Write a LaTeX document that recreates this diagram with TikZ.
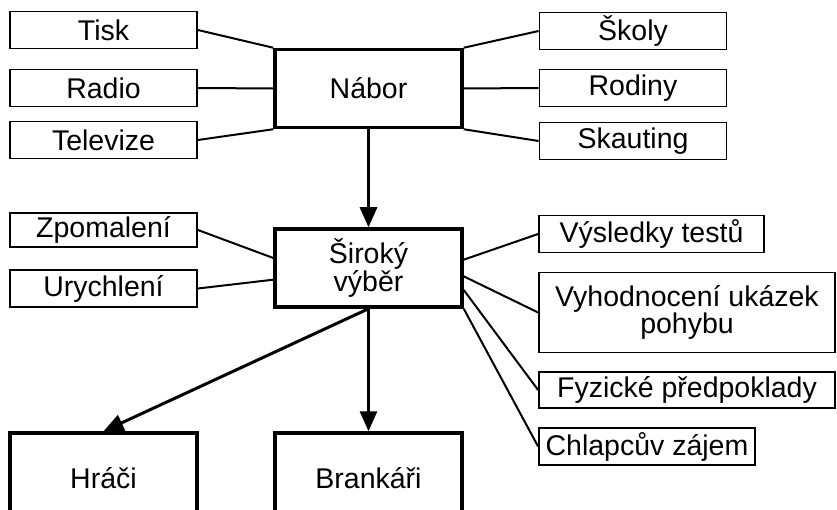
\documentclass[tikz,border=0pt]{standalone}
\usepackage{fontspec}
\setmainfont{Liberation Sans}
\usetikzlibrary{arrows.meta,positioning}

\begin{document}
\begin{tikzpicture}[
            x=1pt, y=-1pt,
            every node/.style={font=\fontsize{28.5}{26}\selectfont},
            side/.style={draw, line width=1.8pt, minimum width=187pt, minimum height=37pt, inner sep=0pt, align=center},
            hub/.style={draw, line width=3.5pt, minimum width=187pt, minimum height=78pt, inner sep=0pt, align=center},
            link/.style={line width=2pt},
            flow/.style={line width=3pt, -{Triangle[length=20pt,width=17pt]}},
        ]
            \path[use as bounding box, clip] (0,0) rectangle (837,510);

            % top level
            \node[hub] (nabor) at (368.5,88.5) {Nábor};
            \node[side] (tisk) at (103.5,30) {Tisk};
            \node[side] (radio) at (103.5,88) {Radio};
            \node[side] (televize) at (103.5,140) {Televize};
            \node[side] (skoly) at (633,31) {Školy};
            \node[side] (rodiny) at (633,88) {Rodiny};
            \node[side] (skauting) at (633,141) {Skauting};

            % middle level
            \node[hub] (siroky) at (368.5,268) {Široký\\výběr};
            \node[side, minimum height=34pt] (zpomaleni) at (103.5,230) {Zpomalení};
            \node[side] (urychleni) at (103.5,288.5) {Urychlení};
            \node[side, minimum width=225pt] (vysledky) at (651.5,234) {Výsledky testů};
            \node[side, minimum width=296pt, minimum height=80pt] (ukazky) at (687,312.5) {Vyhodnocení ukázek\\pohybu};
            \node[side, minimum width=296pt, minimum height=36pt] (fyzicke) at (687,390) {Fyzické předpoklady};
            \node[side, minimum width=216pt] (zajem) at (647,446.5) {Chlapcův zájem};

            % bottom level
            \node[hub, minimum height=90pt] (hraci) at (103.5,478) {Hráči};
            \node[hub, minimum height=90pt] (brankari) at (368.5,478) {Brankáři};

            \draw[link] (tisk.east) -- (nabor.north west);
            \draw[link] (radio.east) -- (nabor.west);
            \draw[link] (televize.east) -- (nabor.south west);
            \draw[link] (skoly.west) -- (nabor.north east);
            \draw[link] (rodiny.west) -- (nabor.east);
            \draw[link] (skauting.west) -- (nabor.south east);

            \draw[link] (zpomaleni.east) -- (siroky.174);
            \draw[link] (urychleni.east) -- (siroky.187);
            \draw[link] (vysledky.west) -- (siroky.5);
            \draw[link] (ukazky.west) -- (siroky.-5);
            \draw[link] (fyzicke.west) -- (siroky.-13);
            \draw[link] (zajem.west) -- (siroky.south east);

            \draw[flow] (nabor.south) -- (siroky.north);
            \draw[flow] (siroky.south) -- (hraci.north);
            \draw[flow] (siroky.south) -- (brankari.north);
        \end{tikzpicture}
\end{document}
